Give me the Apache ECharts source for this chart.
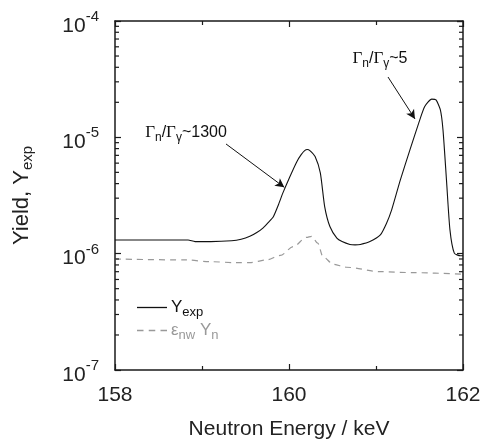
<!DOCTYPE html>
<html>
<head>
<meta charset="utf-8">
<script src="https://cdn.jsdelivr.net/npm/echarts@6/dist/echarts.min.js"></script>
<style>html,body{margin:0;padding:0;background:#fff}#c{width:487px;height:442px}</style>
</head>
<body>
<div id="c"></div>
<script>
// ---- data ----
var xTickLabels = [158, 160, 162];
var yDecades = [1e-7, 1e-6, 1e-5, 1e-4];
var minorTickVals = [];
[1e-7, 1e-6, 1e-5].forEach(function (d) { for (var k = 2; k <= 9; k++) minorTickVals.push(k * d); });

var yexpE = [158.00,158.40,158.84,158.92,159.10,159.34,159.45,159.55,159.63,159.70,159.76,159.82,159.88,159.93,160.01,160.09,160.14,160.18,160.21,160.24,160.30,160.36,160.41,160.47,160.55,160.61,160.70,160.76,160.82,160.93,161.05,161.12,161.18,161.28,161.39,161.49,161.56,161.64,161.69,161.74,161.77,161.81,161.85,161.90,161.97,162.00];
var yexpV = [1.31e-6,1.31e-6,1.31e-6,1.27e-6,1.27e-6,1.29e-6,1.33e-6,1.41e-6,1.52e-6,1.66e-6,1.85e-6,2.08e-6,2.65e-6,3.33e-6,4.59e-6,6.18e-6,7.1e-6,7.69e-6,7.85e-6,7.69e-6,6.83e-6,4.94e-6,2.54e-6,1.71e-6,1.36e-6,1.27e-6,1.20e-6,1.19e-6,1.20e-6,1.27e-6,1.45e-6,1.82e-6,2.38e-6,4.31e-6,7.80e-6,1.32e-5,1.84e-5,2.13e-5,2.10e-5,1.72e-5,1.16e-5,4.31e-6,1.60e-6,1.01e-6,9.6e-7,9.6e-7];

var eynE = [158.00,158.82,159.09,159.40,159.55,159.74,159.90,160.05,160.20,160.26,160.33,160.39,160.51,160.66,161.05,161.43,162.00];
var eynV = [9.0e-7,8.83e-7,8.53e-7,8.37e-7,8.37e-7,8.83e-7,9.65e-7,1.15e-6,1.38e-6,1.41e-6,1.23e-6,9.42e-7,8.11e-7,7.64e-7,7.0e-7,6.87e-7,6.65e-7];

var annot1 = {text: '{g|Γ}{sub|n}{t|/}{g|Γ}{sub|γ}{t|~1300}', at: [158.816, 1.09e-5], from: [159.276, 8.77e-6], to: [159.946, 3.72e-6]};
var annot2 = {text: '{g|Γ}{sub|n}{t|/}{g|Γ}{sub|γ}{t|~5}', at: [161.046, 4.72e-5], from: [161.138, 3.30e-5], to: [161.448, 1.44e-5]};

// ---- chart ----
var FONT = 'Liberation Sans';
var axisCol = '#1a1a1a';
var chart = echarts.init(document.getElementById('c'), null, {renderer: 'canvas'});

function zip(a, b) { return a.map(function (v, i) { return [v, b[i]]; }); }

var annRich = {
  g: {fontFamily: 'Liberation Serif', fontSize: 17, color: '#111'},
  sub: {fontFamily: FONT, fontSize: 12, color: '#111', padding: [10, 0, 0, 0]},
  t: {fontFamily: FONT, fontSize: 16, color: '#111'}
};

var xAxisBase = {
  type: 'value', min: 158, max: 162, interval: 2,
  axisLine: {show: true, onZero: false, lineStyle: {color: axisCol, width: 1.5}},
  axisTick: {show: true, inside: true, length: 6, lineStyle: {color: axisCol, width: 1.2}},
  minorTick: {show: true, splitNumber: 2, length: 4, lineStyle: {color: axisCol, width: 1.2}},
  splitLine: {show: false}
};
var yAxisBase = {
  type: 'log', logBase: 10, min: 1e-7, max: 1e-4,
  axisLine: {show: true, onZero: false, lineStyle: {color: axisCol, width: 1.5}},
  axisTick: {show: true, inside: true, length: 6, lineStyle: {color: axisCol, width: 1.2}},
  splitLine: {show: false}
};

var option = {
  animation: false,
  backgroundColor: '#fff',
  grid: {left: 115, right: 24, top: 21, bottom: 72, containLabel: false, outerBoundsMode: 'none'},
  xAxis: [
    Object.assign({}, xAxisBase, {
      position: 'bottom',
      name: 'Neutron Energy / keV', nameLocation: 'middle', nameGap: 49,
      nameTextStyle: {fontFamily: FONT, fontSize: 21, color: '#222'},
      axisLabel: {show: true, margin: 15, fontFamily: FONT, fontSize: 21, color: '#222',
        formatter: function (v) { return xTickLabels.indexOf(v) >= 0 ? String(v) : ''; }}
    }),
    Object.assign({}, xAxisBase, {position: 'top', axisLabel: {show: false}})
  ],
  yAxis: [
    Object.assign({}, yAxisBase, {
      position: 'left',
      name: '{m|Yield, Y}{s|exp}', nameLocation: 'middle', nameGap: 80,
      nameTextStyle: {rich: {
        m: {fontFamily: FONT, fontSize: 22, color: '#222'},
        s: {fontFamily: FONT, fontSize: 15, color: '#222', padding: [12, 0, 0, 0]}
      }},
      axisLabel: {show: true, margin: 16,
        formatter: function (v) {
          var e = Math.round(Math.log10(v));
          return yDecades.some(function (d) { return Math.abs(Math.log10(d) - e) < 1e-6; }) ? '{b|10}{s|' + e + '}' : '';
        },
        rich: {
          b: {fontFamily: FONT, fontSize: 21, color: '#222', padding: [10, 0, 0, 0]},
          s: {fontFamily: FONT, fontSize: 15, color: '#222', padding: [0, 0, 8, 0]}
        }
      }
    }),
    Object.assign({}, yAxisBase, {position: 'right', axisLabel: {show: false}})
  ],
  legend: {
    show: true, orient: 'vertical', left: 137, top: 299, padding: 0,
    itemWidth: 30, itemHeight: 14, itemGap: 3, symbolKeepAspect: true,
    data: [
      {name: 'Yexp', icon: 'path://M0,0h30v1.3h-30z'},
      {name: 'eYn', icon: 'path://M0,0h6.5v1.3h-6.5z M11.75,0h6.5v1.3h-6.5z M23.5,0h6.5v1.3h-6.5z'}
    ],
    formatter: function (n) {
      return n === 'Yexp' ? '{y|Y}{ys|exp}' : '{gy|ε}{gys|nw}{gy| Y}{gys|n}';
    },
    textStyle: {padding: [0, 0, 0, -1], rich: {
      y: {fontFamily: FONT, fontSize: 17, color: '#111'},
      ys: {fontFamily: FONT, fontSize: 13, color: '#111', padding: [10, 0, 0, 0]},
      gy: {fontFamily: FONT, fontSize: 17, color: '#999'},
      gys: {fontFamily: FONT, fontSize: 13, color: '#999', padding: [10, 0, 0, 0]}
    }}
  },
  series: [
    {
      name: 'Yexp', type: 'line', xAxisIndex: 0, yAxisIndex: 0,
      data: zip(yexpE, yexpV), symbol: 'none', showSymbol: false,
      smooth: 0.2,
      lineStyle: {color: '#111', width: 1.1}, itemStyle: {color: '#111'},
      markLine: {
        silent: true, symbol: ['none', 'arrow'], symbolSize: [7, 9],
        lineStyle: {color: '#111', width: 1, type: 'solid'},
        label: {show: false},
        data: [
          [{coord: annot1.from}, {coord: annot1.to}],
          [{coord: annot2.from}, {coord: annot2.to}]
        ]
      },
      markPoint: {
        silent: true, symbol: 'rect', symbolSize: 0,
        label: {show: true, position: 'inside', rich: annRich, formatter: function (p) { return p.data.txt; }},
        data: [
          {coord: annot1.at, txt: annot1.text},
          {coord: annot2.at, txt: annot2.text}
        ]
      },
      z: 3
    },
    {
      name: 'eYn', type: 'line', xAxisIndex: 0, yAxisIndex: 0,
      data: zip(eynE, eynV), symbol: 'none', showSymbol: false,
      smooth: 0.3, smoothMonotone: 'x',
      lineStyle: {color: '#999', width: 1.2, type: [6, 5]}, itemStyle: {color: '#999'},
      z: 2
    },
    {
      name: 'minorTicks', type: 'custom', xAxisIndex: 0, yAxisIndex: 0,
      data: minorTickVals.map(function (v) { return [158, v]; }),
      silent: true, clip: false,
      renderItem: function (params, api) {
        var v = api.value(1);
        var pl = api.coord([158, v]);
        var pr = api.coord([162, v]);
        var st = {stroke: axisCol, lineWidth: 1.2};
        return {type: 'group', children: [
          {type: 'line', shape: {x1: pl[0], y1: pl[1], x2: pl[0] + 4, y2: pl[1]}, style: st},
          {type: 'line', shape: {x1: pr[0], y1: pr[1], x2: pr[0] - 4, y2: pr[1]}, style: st}
        ]};
      },
      z: 5
    }
  ]
};
chart.setOption(option);
</script>
</body>
</html>
